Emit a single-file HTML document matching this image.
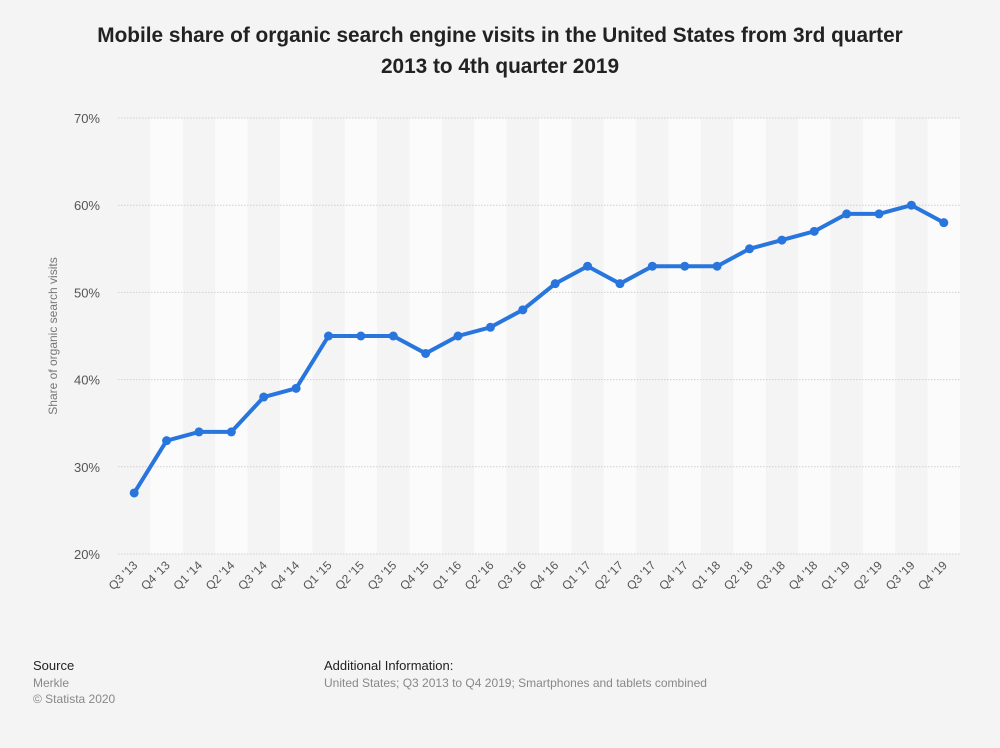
<!DOCTYPE html>
<html><head><meta charset="utf-8"><style>
body{margin:0;background:#f4f4f4;font-family:"Liberation Sans",sans-serif;}
</style></head><body>
<svg width="1000" height="743" xmlns="http://www.w3.org/2000/svg" font-family="Liberation Sans, sans-serif">
<rect width="1000" height="743" fill="#f4f4f4"/>
<text x="500" y="42" text-anchor="middle" font-size="20.8" font-weight="bold" fill="#222">Mobile share of organic search engine visits in the United States from 3rd quarter</text>
<text x="500" y="73" text-anchor="middle" font-size="20.8" font-weight="bold" fill="#222">2013 to 4th quarter 2019</text>
<g id="bands"></g>
<g id="grid"></g>
<text transform="translate(57,336) rotate(-90)" text-anchor="middle" font-size="12" fill="#777">Share of organic search visits</text>
<g id="plot"></g>
<text x="33" y="670" font-size="13" fill="#222">Source</text>
<text x="33" y="687" font-size="12" fill="#888">Merkle</text>
<text x="33" y="703" font-size="12" fill="#888">© Statista 2020</text>
<text x="324" y="670" font-size="13" fill="#222">Additional Information:</text>
<text x="324" y="687" font-size="12" fill="#888">United States; Q3 2013 to Q4 2019; Smartphones and tablets combined</text>
</svg>
<script>
const ns="http://www.w3.org/2000/svg";
const svg=document.querySelector('svg');
function el(t,a,p,txt){const e=document.createElementNS(ns,t);for(const k in a)e.setAttribute(k,a[k]);if(txt)e.textContent=txt;(p||svg).appendChild(e);return e;}
const x0=118,x1=960,n=26,w=(x1-x0)/n;
const yv=v=>554-(v-20)*8.72;
const bands=document.getElementById('bands'),grid=document.getElementById('grid'),plot=document.getElementById('plot');
for(let i=1;i<n;i+=2)el('rect',{x:x0+i*w,y:118,width:w,height:436,fill:'#fbfbfb'},bands);
for(let v=20;v<=70;v+=10){el('line',{x1:x0,x2:x1,y1:yv(v),y2:yv(v),stroke:'#cfcfcf','stroke-dasharray':'1.5,1.5'},grid);
el('text',{x:100,y:yv(v)+5,'text-anchor':'end','font-size':13,fill:'#555'},grid,v+'%');}
const d=[27,33,34,34,38,39,45,45,45,43,45,46,48,51,53,51,53,53,53,55,56,57,59,59,60,58];
const labs=[];let q=3,yr=13;for(let i=0;i<n;i++){labs.push('Q'+q+" '"+yr);q++;if(q>4){q=1;yr++;}}
let pts=d.map((v,i)=>[x0+(i+.5)*w,yv(v)]);
el('polyline',{points:pts.map(p=>p.join(',')).join(' '),fill:'none',stroke:'#2876dd','stroke-width':4,'stroke-linejoin':'round'},plot);
pts.forEach(p=>el('circle',{cx:p[0],cy:p[1],r:4.5,fill:'#2876dd'},plot));
labs.forEach((l,i)=>{const cx=x0+(i+.5)*w+4;el('text',{x:cx,y:566,'text-anchor':'end','font-size':12,fill:'#555',transform:`rotate(-45 ${cx} 566)`},plot,l);});
</script>
</body></html>
